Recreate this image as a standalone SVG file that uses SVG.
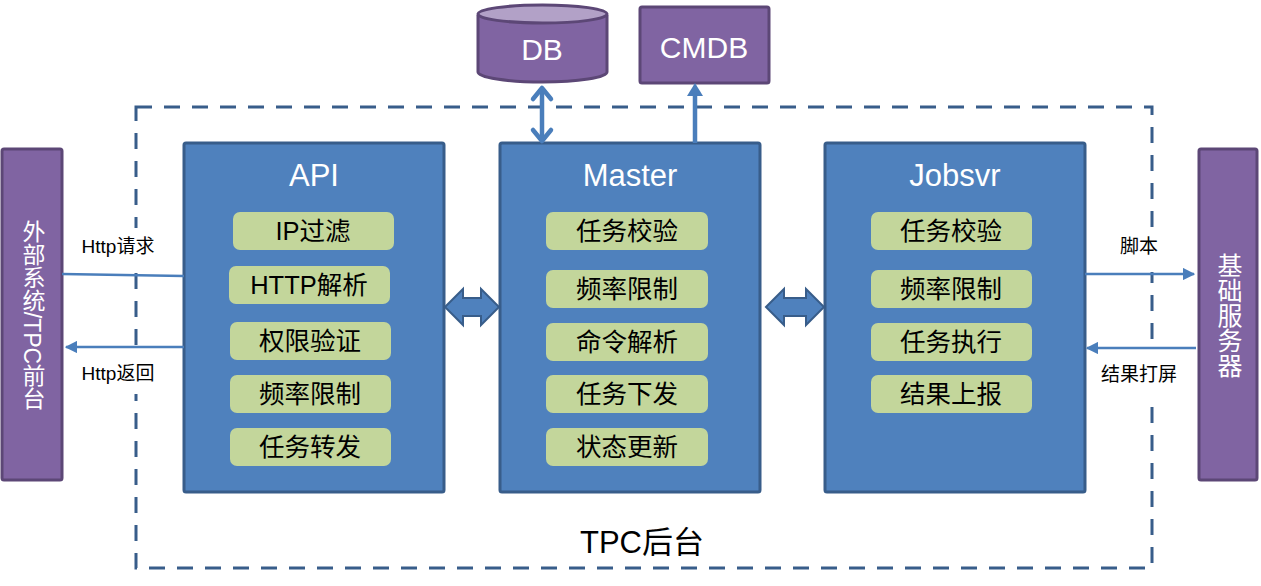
<svg xmlns="http://www.w3.org/2000/svg" width="1261" height="586" viewBox="0 0 1261 586">
<defs>
<style>
.ext{fill:#8064A2;stroke:#5C4776;stroke-width:3}
.box{fill:#4F81BD;stroke:#385D8A;stroke-width:3}
.pill{fill:#C3D69B}
.pt{font-family:"Liberation Sans","Noto Sans CJK SC",sans-serif;font-size:25.5px;fill:#000;text-anchor:middle}
.title{font-family:"Liberation Sans","Noto Sans CJK SC",sans-serif;font-size:31px;fill:#fff;text-anchor:middle}
.lbl{font-family:"Liberation Sans","Noto Sans CJK SC",sans-serif;font-size:19px;fill:#000;text-anchor:middle}
.vt{font-family:"Liberation Sans","Noto Sans CJK SC",sans-serif;fill:#fff;writing-mode:tb;text-anchor:middle}
.ln{stroke:#4A7EBB;stroke-width:2.5;fill:none}
.thick{stroke:#4A7EBB;stroke-width:4.5;fill:none}
.fat{fill:#4F81BD;stroke:#385D8A;stroke-width:2}
.lblbg{fill:#fff}
</style>
<marker id="ah" viewBox="0 0 10 10" refX="9" refY="5" markerWidth="5" markerHeight="5" orient="auto-start-reverse" markerUnits="strokeWidth">
<path d="M0,0 L10,5 L0,10 z" fill="#4A7EBB"/>
</marker>
</defs>
<rect width="1261" height="586" fill="#fff"/>

<g id="tpc-backend">
<rect x="136" y="107" width="1016" height="461" fill="none" stroke="#385D8A" stroke-width="3" stroke-dasharray="16 12"/>
<text x="642" y="553" font-family="Liberation Sans,Noto Sans CJK SC,sans-serif" font-size="31" text-anchor="middle" fill="#000">TPC后台</text>
</g>

<g id="external">
<rect class="ext" x="2" y="149" width="60" height="331" rx="2"/>
<text class="vt" x="32" y="315" font-size="23">外部系统/TPC前台</text>
</g>

<g id="infra">
<rect class="ext" x="1199" y="149" width="58" height="331" rx="2"/>
<text class="vt" x="1228" y="315" font-size="25">基础服务器</text>
</g>

<g id="db">
<path class="ext" d="M478,15 V72 A64.5,10 0 0 0 607,72 V15"/>
<ellipse cx="542.5" cy="14" rx="64.5" ry="9" fill="#B2A1C7" stroke="#5C4776" stroke-width="3"/>
<text x="542" y="60" font-family="Liberation Sans,sans-serif" font-size="30" fill="#fff" text-anchor="middle">DB</text>
</g>

<g id="cmdb">
<rect class="ext" x="640" y="7" width="129" height="76" rx="2"/>
<text x="704" y="58" font-family="Liberation Sans,sans-serif" font-size="30" fill="#fff" text-anchor="middle">CMDB</text>
</g>

<g id="api">
<rect class="box" x="184" y="143" width="260" height="349" rx="2"/>
<text class="title" x="314" y="186">API</text>
<rect class="pill" x="233" y="212" width="161" height="38" rx="7"/>
<text class="pt" x="313" y="240">IP过滤</text>
<rect class="pill" x="229" y="266" width="161" height="38" rx="7"/>
<text class="pt" x="309" y="294">HTTP解析</text>
<rect class="pill" x="230" y="322" width="161" height="38" rx="7"/>
<text class="pt" x="310" y="350">权限验证</text>
<rect class="pill" x="230" y="375" width="161" height="38" rx="7"/>
<text class="pt" x="310" y="403">频率限制</text>
<rect class="pill" x="230" y="428" width="161" height="38" rx="7"/>
<text class="pt" x="310" y="456">任务转发</text>
</g>

<g id="master">
<rect class="box" x="500" y="143" width="260" height="349" rx="2"/>
<text class="title" x="630" y="186">Master</text>
<rect class="pill" x="546" y="212" width="162" height="38" rx="7"/>
<text class="pt" x="627" y="240">任务校验</text>
<rect class="pill" x="546" y="270" width="162" height="38" rx="7"/>
<text class="pt" x="627" y="298">频率限制</text>
<rect class="pill" x="546" y="323" width="162" height="38" rx="7"/>
<text class="pt" x="627" y="351">命令解析</text>
<rect class="pill" x="546" y="375" width="162" height="38" rx="7"/>
<text class="pt" x="627" y="403">任务下发</text>
<rect class="pill" x="546" y="428" width="162" height="38" rx="7"/>
<text class="pt" x="627" y="456">状态更新</text>
</g>

<g id="jobsvr">
<rect class="box" x="825" y="143" width="260" height="349" rx="2"/>
<text class="title" x="955" y="186">Jobsvr</text>
<rect class="pill" x="871" y="212" width="161" height="38" rx="7"/>
<text class="pt" x="951" y="240">任务校验</text>
<rect class="pill" x="871" y="270" width="161" height="38" rx="7"/>
<text class="pt" x="951" y="298">频率限制</text>
<rect class="pill" x="871" y="323" width="161" height="38" rx="7"/>
<text class="pt" x="951" y="351">任务执行</text>
<rect class="pill" x="871" y="375" width="161" height="38" rx="7"/>
<text class="pt" x="951" y="403">结果上报</text>
</g>

<g id="connectors">
<rect class="lblbg" x="70" y="228" width="100" height="44"/>
<rect class="lblbg" x="70" y="350" width="100" height="44"/>
<rect class="lblbg" x="1095" y="228" width="90" height="44"/>
<rect class="lblbg" x="1092" y="351" width="96" height="44"/>
<line class="ln" x1="62" y1="274" x2="184" y2="276"/>
<text class="lbl" x="118" y="253">Http请求</text>
<line class="ln" x1="184" y1="347" x2="66" y2="347" marker-end="url(#ah)"/>
<text class="lbl" x="118" y="380">Http返回</text>
<line class="ln" x1="1085" y1="274" x2="1194" y2="274" marker-end="url(#ah)"/>
<text class="lbl" x="1139" y="253">脚本</text>
<line class="ln" x1="1196" y1="348" x2="1087" y2="348" marker-end="url(#ah)"/>
<text class="lbl" x="1139" y="381">结果打屏</text>
<line class="thick" x1="542" y1="88" x2="542" y2="141"/>
<path d="M533,99 L542,88 L551,99 M533,130 L542,141 L551,130" stroke="#4A7EBB" stroke-width="4.5" fill="none" stroke-linecap="round" stroke-linejoin="round"/>
<line class="thick" x1="695" y1="143" x2="695" y2="95"/>
<path d="M687,96 L695,83 L703,96 Z" fill="#4A7EBB"/>
<path class="fat" d="M445,307 L463,289 V298 H481 V289 L499,307 L481,325 V316 H463 V325 Z"/>
<path class="fat" d="M766,307 L784,289 V298 H806 V289 L824,307 L806,325 V316 H784 V325 Z"/>
</g>
</svg>
